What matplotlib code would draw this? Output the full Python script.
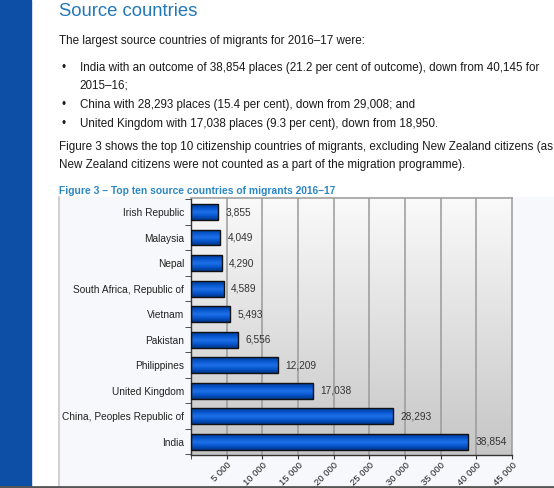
import numpy as np
import matplotlib.pyplot as plt
from matplotlib.patches import Rectangle
from matplotlib.colors import LinearSegmentedColormap

plt.rcParams['font.family'] = ['Liberation Sans', 'DejaVu Sans']

# ---------------- data ----------------
countries = ['Irish Republic', 'Malaysia', 'Nepal', 'South Africa, Republic of',
             'Vietnam', 'Pakistan', 'Philippines', 'United Kingdom',
             'China, Peoples Republic of', 'India']
places = [3855, 4049, 4290, 4589, 5493, 6556, 12209, 17038, 28293, 38854]
place_labels = ['3,855', '4,049', '4,290', '4,589', '5,493', '6,556',
                '12,209', '17,038', '28,293', '38,854']
xticks = [5000, 10000, 15000, 20000, 25000, 30000, 35000, 40000, 45000]
xtick_labels = ['5 000', '10 000', '15 000', '20 000', '25 000',
                '30 000', '35 000', '40 000', '45 000']

title = 'Source countries'
intro = 'The largest source countries of migrants for 2016\u201317 were:'
bullets = [
    ['India with an outcome of 38,854 places (21.2 per cent of outcome), down from 40,145 for',
     '2015\u201316;'],
    ['China with 28,293 places (15.4 per cent), down from 29,008; and'],
    ['United Kingdom with 17,038 places (9.3 per cent), down from 18,950.'],
]
para = ['Figure 3 shows the top 10 citizenship countries of migrants, excluding New Zealand citizens (as',
        'New Zealand citizens were not counted as a part of the migration programme).']
caption = 'Figure 3 \u2013 Top ten source countries of migrants 2016\u201317'

W, H = 554, 488
fig = plt.figure(figsize=(W / 100, H / 100), dpi=100)
fig.patch.set_facecolor('white')

def fx(px):
    return px / W

def fy(py):
    return 1 - py / H

# ---------------- page decoration ----------------
page = fig.add_axes([0, 0, 1, 1])
page.set_xlim(0, W)
page.set_ylim(H, 0)
page.axis('off')
page.add_patch(Rectangle((0, 0), 31, H, color='#0d4fa6', zorder=1))
page.add_patch(Rectangle((59, 197), W - 59, H - 197, color='#f7f8fb', zorder=0))
page.plot([59, 59], [197, H], color='#c9c9c9', lw=1.2, zorder=2)

# ---------------- text ----------------
body_color = '#1a1a1a'
fs = 8.4
page.text(59, 11, title, fontsize=13.3, color='#2378b8', va='center', ha='left')
page.text(59, 41, intro, fontsize=fs, color=body_color, va='center')
y = 68
for b in bullets:
    page.text(61, y, '\u2022', fontsize=fs, color=body_color, va='center')
    for line in b:
        page.text(79.5, y, line, fontsize=fs, color=body_color, va='center')
        y += 17.5
    y += 2
page.text(59, 147, para[0], fontsize=fs, color=body_color, va='center')
page.text(59, 165, para[1], fontsize=fs, color=body_color, va='center')
page.text(59, 191, caption, fontsize=7.4, color='#2b86c5', fontweight='bold', va='center')

# ---------------- chart ----------------
left, right, top, bottom = 191, 512, 198, 455
ax = fig.add_axes([fx(left), fy(bottom), fx(right - left), (bottom - top) / H])
ax.set_xlim(0, 45000)
ax.set_ylim(9.52, -0.55)

# gradient background
grad = np.linspace(0, 1, 256).reshape(-1, 1)
ax.imshow(grad, extent=[0, 1, 0, 1], transform=ax.transAxes, aspect='auto',
          cmap=LinearSegmentedColormap.from_list('bg', ['#c6c6c6', '#fafafa']),
          origin='lower', zorder=0)

for xt in xticks[:-1]:
    ax.axvline(xt, color='#9a9a9a', lw=1.1, zorder=1)

ypos = np.arange(len(countries))
bars = ax.barh(ypos, places, height=0.62, color='none', edgecolor='#111111',
               lw=1.0, zorder=3)
bar_cmap = LinearSegmentedColormap.from_list(
    'bar', ['#003a96', '#0656cc', '#1f70e8', '#0656cc', '#00358a'])
bgrad = np.linspace(0, 1, 64).reshape(-1, 1)
for bar in bars:
    x0, y0 = bar.get_x(), bar.get_y()
    w, h = bar.get_width(), bar.get_height()
    im = ax.imshow(bgrad, extent=[x0, x0 + w, y0 + h, y0], aspect='auto',
                   cmap=bar_cmap, zorder=2, origin='upper')
    im.set_clip_path(bar)

for yp, v, lab in zip(ypos, places, place_labels):
    ax.text(v + 1050, yp, lab, fontsize=7.3, color='#333333', va='center', ha='left',
            zorder=4)

ax.set_yticks(ypos)
ax.set_yticklabels(countries, fontsize=7.3, color='#222222')
ax.set_yticks(np.arange(-0.5, 10, 1), minor=True)
ax.tick_params(axis='y', which='major', length=0, pad=5)
ax.tick_params(axis='y', which='minor', length=4, color='#333333', direction='out')

ax.set_xticks(xticks)
ax.set_xticklabels(xtick_labels, fontsize=6.8, color='#222222', rotation=45,
                   ha='right', rotation_mode='anchor')
ax.set_xticks([0], minor=True)
ax.tick_params(axis='x', which='both', length=3, color='#333333', direction='out', pad=1)

for s in ['top', 'right']:
    ax.spines[s].set_color('#9a9a9a')
    ax.spines[s].set_linewidth(1.1)
for s in ['left', 'bottom']:
    ax.spines[s].set_color('#333333')
    ax.spines[s].set_linewidth(1.0)

page.plot([0, W], [H - 1, H - 1], color='#555555', lw=2, zorder=5)

fig.savefig('out.png', dpi=100)
